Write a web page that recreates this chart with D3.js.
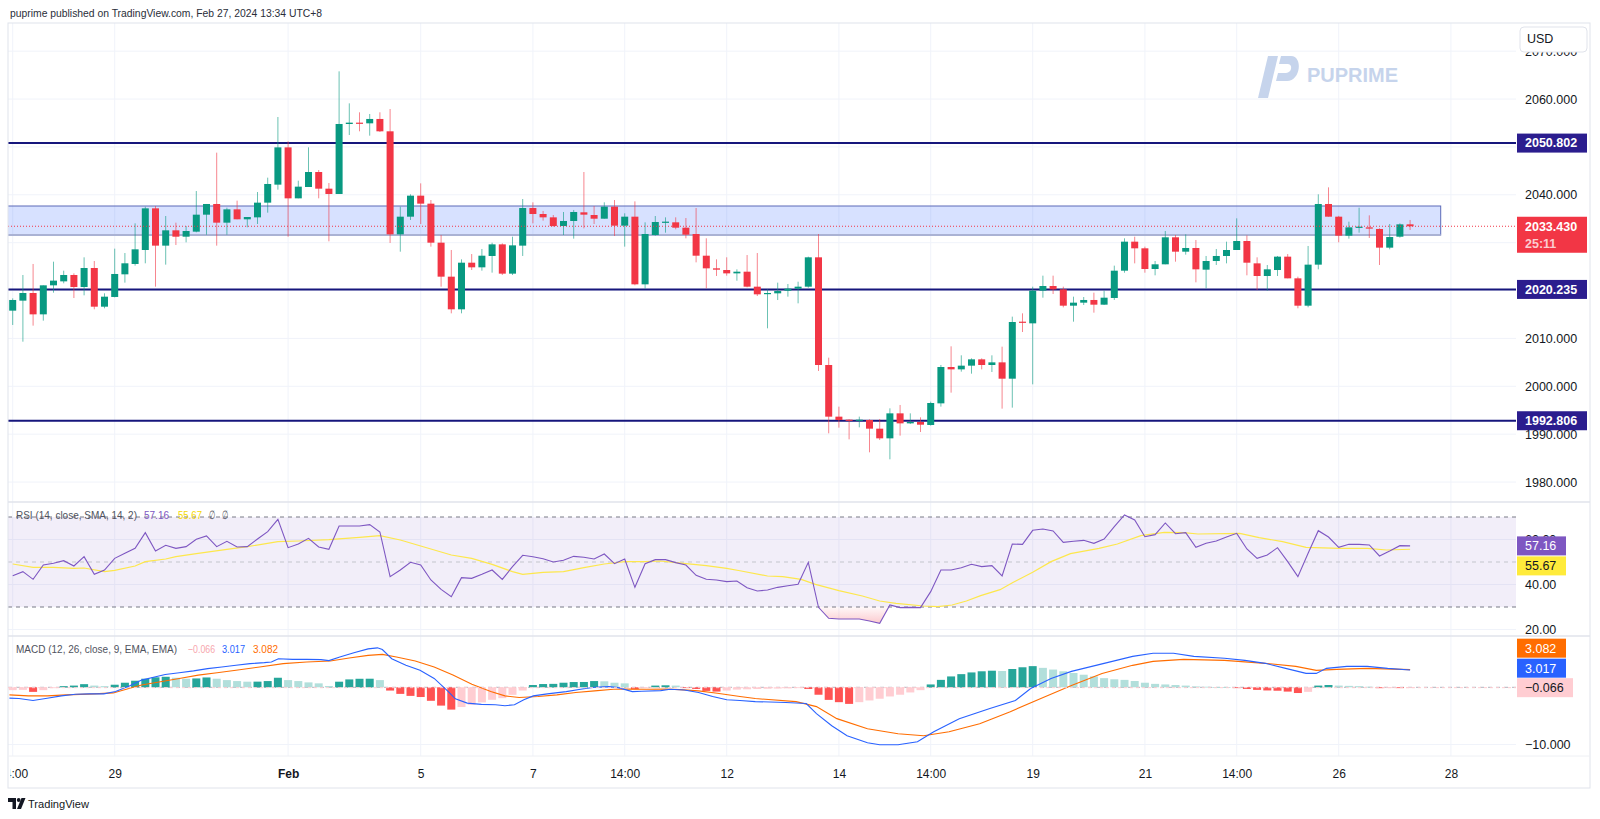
<!DOCTYPE html>
<html><head><meta charset="utf-8">
<script src="https://cdn.jsdelivr.net/npm/d3@7"></script>
<style>body{margin:0;background:#fff;}svg{display:block;font-family:"Liberation Sans",Arial,sans-serif;}</style>
</head><body><svg id="c" width="1600" height="819"></svg>
<script>
// ---------------- DATA ----------------
const headerText = "puprime published on TradingView.com, Feb 27, 2024 13:34 UTC+8";
const candleOpen = [
2015.80,2017.89,2019.49,2015.03,2021.09,2021.92,2023.25,2020.74,2024.71,2016.63,
2018.66,2023.39,2025.55,2028.47,2037.17,2029.38,2032.58,2031.25,2032.30,2035.85,
2038.08,2034.18,2036.96,2034.88,2035.29,2038.36,2042.12,2049.91,2039.26,2041.63,
2044.76,2041.28,2040.17,2054.79,2055.07,2054.93,2055.84,2053.26,2031.74,2035.43,
2039.82,2038.15,2030.00,2022.90,2016.08,2025.82,2024.85,2027.22,2029.65,2023.53,
2029.38,2037.24,2035.99,2035.29,2033.48,2034.53,2036.34,2035.78,2035.01,2037.52,
2033.55,2035.43,2021.30,2031.60,2034.25,2034.25,2033.13,2031.81,2027.28,2024.64,
2024.29,2023.59,2023.94,2020.81,2019.28,2019.42,2019.97,2020.39,2020.81,2026.94,
2004.45,1993.66,1993.03,1992.82,1992.96,1991.15,1989.13,1994.35,1992.26,1992.54,
1991.92,1996.44,2004.03,2003.54,2004.31,2005.63,2004.45,2005.00,2001.59,2013.50,
2013.15,2019.98,2020.95,2020.25,2016.84,2017.47,2018.03,2017.05,2018.45,2024.15,
2030.21,2028.82,2024.50,2025.48,2031.12,2028.12,2028.89,2024.36,2026.17,2027.22,
2028.47,2030.35,2025.68,2023.04,2024.29,2027.08,2022.55,2016.84,2025.41,2038.08,
2035.43,2031.46,2033.20,2033.20,2032.86,2028.96,2031.25,2033.83];
const candleHigh = [
2018.37,2023.25,2025.55,2021.09,2026.03,2024.15,2023.60,2026.94,2026.17,2019.42,
2028.75,2027.84,2034.04,2037.52,2037.66,2035.57,2034.18,2033.48,2040.79,2038.08,
2048.80,2037.31,2038.78,2035.36,2040.58,2043.58,2056.25,2051.17,2042.95,2049.91,
2045.18,2042.46,2065.79,2059.10,2057.23,2056.88,2057.23,2057.92,2037.52,2040.10,
2042.39,2038.91,2031.60,2028.47,2026.52,2027.63,2028.68,2030.00,2029.86,2031.25,
2039.12,2038.43,2036.62,2035.78,2036.41,2036.83,2044.76,2037.66,2038.43,2038.91,
2036.13,2038.63,2034.25,2035.57,2035.29,2035.29,2035.15,2037.24,2030.91,2026.52,
2026.94,2024.43,2027.42,2027.84,2020.25,2021.65,2021.37,2021.85,2027.08,2031.81,
2005.98,1995.75,1993.10,1993.66,1993.10,1993.17,1995.40,1996.10,1994.35,1993.52,
1996.79,2004.45,2008.35,2006.47,2005.84,2005.84,2006.47,2008.28,2014.55,2015.24,
2020.81,2023.11,2023.11,2020.81,2018.72,2018.65,2019.56,2019.98,2025.20,2030.91,
2031.25,2029.17,2026.17,2032.44,2031.60,2031.74,2030.56,2027.22,2028.68,2030.21,
2035.08,2031.53,2026.94,2025.34,2027.22,2027.63,2022.90,2029.31,2040.10,2041.56,
2035.60,2034.39,2037.31,2035.71,2033.00,2033.90,2034.04,2034.74];
const candleLow = [
2012.81,2009.32,2012.67,2013.71,2019.56,2021.51,2018.44,2019.00,2016.08,2016.29,
2018.58,2021.65,2025.20,2025.69,2020.81,2025.41,2029.51,2030.07,2032.16,2031.67,
2029.38,2031.67,2034.88,2033.21,2033.90,2036.27,2041.07,2031.25,2039.26,2041.63,
2039.26,2030.28,2040.17,2052.49,2053.26,2052.35,2053.12,2029.94,2028.12,2034.74,
2033.90,2029.17,2020.81,2015.24,2015.24,2024.29,2024.15,2023.74,2023.25,2023.25,
2027.22,2034.04,2034.60,2033.34,2031.60,2030.84,2033.00,2033.90,2035.01,2031.39,
2029.17,2021.10,2020.39,2031.46,2032.09,2032.79,2030.91,2025.89,2020.46,2023.04,
2023.11,2022.06,2020.67,2018.86,2012.11,2018.02,2018.72,2017.33,2020.60,2003.20,
1990.18,1991.36,1988.92,1991.43,1986.21,1988.78,1984.75,1989.69,1992.12,1990.45,
1991.78,1995.75,1998.67,2003.06,2002.64,2003.54,2002.99,1995.33,1995.54,2011.34,
2000.41,2018.51,2019.28,2016.49,2013.50,2016.98,2015.38,2016.98,2018.03,2023.73,
2025.68,2023.73,2023.18,2025.48,2026.03,2027.50,2021.72,2020.46,2025.34,2025.68,
2028.47,2023.18,2020.11,2019.98,2023.04,2022.55,2016.29,2016.50,2024.43,2035.43,
2030.07,2030.84,2032.09,2030.98,2025.34,2028.61,2031.05,2032.65];
const candleClose = [
2018.03,2019.49,2015.03,2021.09,2022.07,2023.25,2020.74,2024.71,2016.63,2018.72,
2023.46,2025.69,2028.61,2037.17,2029.38,2032.58,2031.25,2032.44,2035.85,2038.08,
2034.18,2036.96,2034.88,2035.36,2038.36,2042.26,2049.91,2039.26,2041.70,2044.76,
2041.28,2040.17,2054.79,2055.07,2054.93,2055.84,2053.26,2031.74,2035.43,2039.82,
2038.15,2030.00,2022.90,2016.08,2025.82,2024.85,2027.28,2029.65,2023.53,2029.44,
2037.24,2035.99,2035.29,2033.48,2034.53,2036.41,2035.85,2035.01,2037.52,2033.55,
2035.43,2021.30,2031.81,2034.32,2034.39,2033.13,2031.67,2027.28,2024.64,2024.36,
2023.59,2023.94,2020.81,2019.21,2019.49,2019.90,2020.39,2020.81,2026.94,2004.45,
1993.66,1992.96,1992.82,1993.03,1991.15,1989.13,1994.35,1992.26,1992.54,1991.98,
1996.51,2004.03,2003.54,2004.31,2005.63,2004.45,2005.00,2001.59,2013.43,2013.29,
2019.98,2020.95,2020.25,2016.84,2017.47,2018.03,2017.05,2018.51,2024.15,2030.21,
2028.82,2024.50,2025.48,2031.12,2028.12,2028.89,2024.43,2026.17,2027.22,2028.47,
2030.35,2025.82,2023.04,2024.43,2027.08,2022.55,2016.84,2025.41,2038.08,2035.43,
2031.46,2033.20,2033.34,2032.93,2028.96,2031.18,2033.83,2033.43];

const rsiValues = [
43.93,45.71,42.30,48.67,49.41,50.59,48.22,52.37,44.52,46.45,
51.63,53.85,56.08,63.04,54.89,57.41,56.08,56.82,60.08,61.56,
56.82,59.19,56.67,56.82,60.22,63.48,68.97,56.37,58.00,60.52,
56.67,55.63,66.00,66.00,66.00,66.59,63.34,43.48,46.45,49.85,
48.67,42.00,37.85,34.59,43.04,42.74,44.52,46.45,42.30,47.93,
52.97,52.37,51.48,50.00,50.74,52.52,52.08,51.34,53.56,49.26,
51.34,38.74,49.26,51.04,51.04,49.71,48.67,44.08,42.30,42.00,
41.26,41.56,38.59,37.11,37.56,38.74,39.48,40.08,49.85,29.85,
24.97,24.67,24.67,24.67,23.78,22.74,30.89,29.71,29.85,29.71,
36.82,46.45,46.45,47.48,48.97,47.93,48.37,43.78,58.00,57.85,
64.08,64.67,63.78,58.74,59.19,59.63,58.30,60.22,65.71,70.89,
68.67,61.26,62.15,67.34,62.59,63.04,56.52,58.30,59.34,61.11,
62.74,55.78,51.63,53.11,56.37,50.15,43.48,53.85,63.93,61.11,
56.52,57.85,57.85,57.56,52.67,54.89,57.26,57.16];
const rsiMaIdx = [0,2,4,6,7,9,10,12,13,15,16,18,21,23,26,28,31,34,36,38,40,43,45,47,49,50,52,54,56,58,60,62,63.5,65,68,70,71.3,74,75.5,77.3,78.7,81,83.3,85,86.6,89.3,90.7,92.1,93.5,94.9,96.8,98.1,100,101.8,103.7,106.5,108.3,110.6,112.9,114.8,116.2,120.3,122.2,124.5,126.8,130.1,132.8,134.7,137];
const rsiMaVal = [49.11,47.63,47.63,47.19,47.33,45.71,46.30,48.22,50.15,51.33,52.37,53.70,55.63,56.82,59.04,59.33,59.93,60.96,61.70,59.78,57.11,53.11,51.63,48.96,45.71,44.52,45.41,45.71,47.48,49.11,50.15,50.15,50.45,49.71,48.37,47.19,46.10,43.78,43.48,42.30,40.08,37.26,34.89,32.67,31.63,30.45,30.15,30.89,32.67,35.04,37.71,40.97,45.41,50.15,53.71,56.08,58.00,61.70,63.19,63.04,62.45,62.74,60.82,59.04,56.52,56.08,56.08,55.34,55.67];

const macdIdx = [-0.32,0.61,1.99,3.38,4.77,6.16,7.55,8.93,10.09,11.48,12.64,14.02,14.95,16.33,17.73,19.11,20.5,21.89,23.27,24.67,25.36,26.05,27.44,28.82,30.22,31.0,32.07,33.45,34.84,35.76,36.24,37.16,38.55,39.93,41.32,42.71,43.4,44.56,45.95,47.33,48.26,49.19,50.11,51.04,52.42,54.27,55.67,57.05,58.44,59.36,60.75,61.68,63.53,64.45,65.84,67.24,68.62,70.01,71.3,72.8,75.8,77.8,78.8,80.3,81.8,83.8,85,86.8,88.7,90.3,92.8,95.8,98.3,99.8,101.8,103.8,105.8,107.8,109.8,111.8,113.8,115.8,118.8,120.8,122.8,124.8,126.8,127.8,128.8,130.8,132.8,134.8,137];
const macdVal = [-1.90,-1.95,-2.30,-1.90,-1.50,-1.21,-1.15,-1.15,-0.75,0.28,1.26,1.83,2.24,2.53,2.87,3.27,3.56,3.85,4.14,4.31,4.43,5.0,4.89,4.89,4.83,4.66,5.29,6.03,6.72,6.90,6.61,5.0,3.85,2.98,1.55,-0.75,-2.01,-2.76,-2.99,-3.05,-3.22,-3.05,-2.18,-1.50,-1.15,-0.75,-0.35,0.0,0.11,-0.06,-0.75,-0.69,-0.58,-0.35,-0.46,-0.92,-1.61,-2.18,-2.30,-2.50,-2.67,-2.84,-4.60,-6.71,-8.47,-9.70,-10.05,-10.05,-9.53,-7.77,-5.48,-3.72,-2.31,-0.21,1.55,2.78,3.66,4.53,5.41,5.95,5.95,5.41,5.07,4.71,4.19,3.31,2.43,2.43,3.31,3.66,3.66,3.31,3.017];
const signalIdx = [-0.32,1.53,3.38,5.24,8.01,9.86,11.48,12.64,14.49,16.33,18.19,20.04,21.89,24.21,26.52,28.82,31.14,32.99,34.84,36.24,37.62,39.47,41.32,43.16,45.02,46.87,48.26,49.65,51.5,53.35,55.2,57.05,58.9,60.29,62.14,63.99,65.38,67.24,69.08,71.3,72.8,76.8,78.8,80.8,83.8,86.8,89.3,91.8,94.8,97.8,100.8,103.8,106.8,109.8,111.8,114.8,118.8,122.8,125.8,127.8,129.8,132.8,137];
const signalVal = [-1.32,-1.50,-1.50,-1.32,-1.15,-0.98,-0.17,0.40,0.98,1.55,2.13,2.53,2.99,3.56,4.14,4.43,4.60,5.12,5.58,5.75,5.29,4.60,3.56,2.13,0.52,-0.75,-1.50,-1.78,-1.61,-1.32,-0.92,-0.63,-0.35,-0.29,-0.35,-0.29,-0.40,-0.63,-1.03,-1.61,-1.97,-2.50,-3.38,-5.48,-7.24,-8.12,-8.47,-7.77,-6.36,-4.26,-1.97,0.32,2.43,3.84,4.53,4.89,4.71,4.19,3.66,2.96,3.13,3.31,3.082];
const macdHist = [
-0.50,-0.45,-0.80,-0.50,-0.15,0.20,0.30,0.55,0.30,0.20,
0.45,0.80,1.15,1.50,1.75,1.84,1.67,1.50,1.55,1.72,
1.50,1.26,1.09,0.98,0.99,1.09,1.67,1.26,1.09,0.86,
0.69,0.23,0.98,1.38,1.49,1.50,1.26,-0.57,-1.15,-1.50,
-1.70,-2.36,-3.20,-3.90,-3.45,-3.05,-2.64,-2.18,-1.90,-1.32,
-0.57,0.40,0.57,0.60,0.80,0.92,0.93,1.09,1.05,0.80,
0.69,-0.35,-0.12,0.30,0.35,0.30,-0.10,-0.30,-0.63,-0.75,
-0.57,-0.40,-0.35,-0.30,-0.25,-0.22,-0.18,-0.12,-0.30,-1.30,
-2.20,-2.60,-2.90,-2.60,-2.30,-2.00,-1.60,-1.30,-0.90,-0.50,
0.50,1.30,1.90,2.30,2.60,2.80,2.90,2.85,3.20,3.50,
3.70,3.40,3.10,2.80,2.50,2.20,1.90,1.60,1.40,1.30,
1.10,0.80,0.60,0.50,0.40,0.30,0.15,0.10,0.05,0.02,
-0.10,-0.30,-0.45,-0.55,-0.60,-0.75,-1.00,-0.80,0.30,0.40,
0.30,0.25,0.20,0.10,-0.15,-0.10,-0.12,-0.066];

const priceTicks = [1980,1990,2000,2010,2020,2030,2040,2050,2060,2070];
const rsiTicks = [20,40,60];
const macdTicks = [-10];
const levelLines = [2050.802, 2020.235, 1992.806];
const zonePrices = [2031.6, 2037.66];
const zoneIdx = [-5, 140];
const lastPrice = 2033.43;
const countdown = "25:11";
const timeIdx = [0,10,27,40,51,60,70,81,90,100,111,120,130,141];
const timeLabels = ["14:00","29","Feb","5","7","14:00","12","14","14:00","19","21","14:00","26","28"];
const rsiLegend = "RSI (14, close, SMA, 14, 2)";
const macdLegend = "MACD (12, 26, close, 9, EMA, EMA)";

// ---------------- LAYOUT ----------------
const PL=8, PR=1516, AXR=1590, PT=23, MB=502, RB=636, MCB=756, FB=788;
const svg = d3.select('#c');
svg.append('rect').attr('width',1600).attr('height',819).attr('fill','#fff');
const defs = svg.append('defs');
function clip(id,x,y,w,h){defs.append('clipPath').attr('id',id).append('rect').attr('x',x).attr('y',y).attr('width',w).attr('height',h);}
clip('cm',PL,PT,PR-PL,MB-PT); clip('cr',PL,MB,PR-PL,RB-MB); clip('cmac',PL,RB,PR-PL,MCB-RB);
clip('ct',10.5,MCB,PR-10.5,FB-MCB);

const x = d3.scaleLinear().domain([0,137]).range([12.7,12.7+137*10.2]);
const yP = d3.scaleLinear().domain([2000,2060]).range([386.3,99.05]);
const yR = d3.scaleLinear().domain([30,70]).range([607,517]);
const yM = d3.scaleLinear().domain([-10,0]).range([744.5,687.3]);

const GRID='#f0f3fa', BORDER='#e0e3eb', TXT='#131722';
const UP='#089981', DN='#f23645';

// header
svg.append('text').attr('x',10).attr('y',17).attr('font-size',11.5).attr('fill','#2a2e39')
  .attr('textLength',312).attr('lengthAdjust','spacingAndGlyphs').text(headerText);

// gridlines
const grid = svg.append('g');
grid.selectAll('.vg').data(timeIdx).join('line').attr('x1',d=>x(d)).attr('x2',d=>x(d))
  .attr('y1',PT).attr('y2',MCB).attr('stroke',GRID).attr('clip-path','url(#cm)');
grid.selectAll('.vg2').data(timeIdx).join('line').attr('x1',d=>x(d)).attr('x2',d=>x(d))
  .attr('y1',MB).attr('y2',RB).attr('stroke',GRID).attr('clip-path','url(#cr)');
grid.selectAll('.vg3').data(timeIdx).join('line').attr('x1',d=>x(d)).attr('x2',d=>x(d))
  .attr('y1',RB).attr('y2',MCB).attr('stroke',GRID).attr('clip-path','url(#cmac)');
grid.selectAll('.hg').data(priceTicks).join('line').attr('x1',PL).attr('x2',PR)
  .attr('y1',d=>yP(d)).attr('y2',d=>yP(d)).attr('stroke',GRID).attr('clip-path','url(#cm)');
grid.selectAll('.hr').data(rsiTicks).join('line').attr('x1',PL).attr('x2',PR)
  .attr('y1',d=>yR(d)).attr('y2',d=>yR(d)).attr('stroke',GRID);
grid.selectAll('.hm').data(macdTicks).join('line').attr('x1',PL).attr('x2',PR)
  .attr('y1',d=>yM(d)).attr('y2',d=>yM(d)).attr('stroke',GRID);

// ---------- MAIN PANE ----------
const main = svg.append('g').attr('clip-path','url(#cm)');
main.append('rect').attr('x',x(zoneIdx[0])).attr('width',x(zoneIdx[1])-x(zoneIdx[0]))
  .attr('y',yP(zonePrices[1])).attr('height',yP(zonePrices[0])-yP(zonePrices[1]))
  .attr('fill','rgba(41,98,255,0.19)').attr('stroke','#5c6bb8').attr('stroke-width',1);
main.append('line').attr('x1',x(zoneIdx[0])).attr('x2',x(zoneIdx[1]))
  .attr('y1',yP(zonePrices[0])).attr('y2',yP(zonePrices[0])).attr('stroke','#aab2d4').attr('stroke-width',2);

// watermark
const wm = svg.append('g').attr('fill','#c6d4ec');
wm.append('path').attr('d','M1258,98 L1268,56 L1278,56 L1268,98 Z');
wm.append('path').attr('d','M1281,56 L1291,56 C1303,56 1301,81 1287,81 L1276,81 L1278,73 L1286,73 C1292,73 1293,64 1288,64 L1279,64 Z');
wm.append('text').attr('x',1307).attr('y',82).attr('font-size',20).attr('font-weight','bold').text('PUPRIME');

// level lines
main.selectAll('.lvl').data(levelLines).join('line').attr('x1',PL).attr('x2',PR)
  .attr('y1',d=>yP(d)).attr('y2',d=>yP(d)).attr('stroke','#16167c').attr('stroke-width',2);

// candles
const idx = d3.range(candleOpen.length);
const cg = main.append('g');
cg.selectAll('.w').data(idx).join('line')
  .attr('x1',i=>x(i)).attr('x2',i=>x(i))
  .attr('y1',i=>yP(candleHigh[i])).attr('y2',i=>yP(candleLow[i]))
  .attr('stroke',i=>candleClose[i]>=candleOpen[i]?UP:DN).attr('stroke-opacity',0.6).attr('stroke-width',1);
cg.selectAll('.b').data(idx).join('rect')
  .attr('x',i=>x(i)-3.5).attr('width',7)
  .attr('y',i=>yP(Math.max(candleOpen[i],candleClose[i])))
  .attr('height',i=>Math.max(1.2,Math.abs(yP(candleOpen[i])-yP(candleClose[i]))))
  .attr('fill',i=>candleClose[i]>=candleOpen[i]?UP:DN);

// last price dotted line
main.append('line').attr('x1',PL).attr('x2',PR).attr('y1',yP(lastPrice)).attr('y2',yP(lastPrice))
  .attr('stroke',DN).attr('stroke-dasharray','1,2').attr('stroke-width',1);

// ---------- RSI PANE ----------
const rsi = svg.append('g').attr('clip-path','url(#cr)');
rsi.append('rect').attr('x',PL).attr('width',PR-PL).attr('y',yR(70)).attr('height',yR(30)-yR(70))
  .attr('fill','rgba(126,87,194,0.1)');
[70,30].forEach(v=>rsi.append('line').attr('x1',PL).attr('x2',PR).attr('y1',yR(v)).attr('y2',yR(v))
  .attr('stroke','#787b86').attr('stroke-dasharray','4,4'));
rsi.append('line').attr('x1',PL).attr('x2',PR).attr('y1',yR(50)).attr('y2',yR(50))
  .attr('stroke','#c3c5cc').attr('stroke-dasharray','4,4');
const gradR = defs.append('linearGradient').attr('id','gr').attr('gradientUnits','userSpaceOnUse')
  .attr('x1',0).attr('x2',0).attr('y1',yR(30)).attr('y2',yR(20));
gradR.append('stop').attr('offset',0).attr('stop-color','rgba(242,54,69,0.03)');
gradR.append('stop').attr('offset',1).attr('stop-color','rgba(242,54,69,0.35)');
const gradG = defs.append('linearGradient').attr('id','gg').attr('gradientUnits','userSpaceOnUse')
  .attr('x1',0).attr('x2',0).attr('y1',yR(70)).attr('y2',yR(80));
gradG.append('stop').attr('offset',0).attr('stop-color','rgba(8,153,129,0.03)');
gradG.append('stop').attr('offset',1).attr('stop-color','rgba(8,153,129,0.35)');
clip('below30',PL,yR(30),PR-PL,RB-yR(30));
clip('above70',PL,MB,PR-PL,yR(70)-MB);
const areaR = d3.area().x((d,i)=>x(i)).y0(yR(30)).y1(d=>yR(d));
rsi.append('path').datum(rsiValues).attr('d',areaR).attr('fill','url(#gr)').attr('clip-path','url(#below30)');
const areaG = d3.area().x((d,i)=>x(i)).y0(yR(70)).y1(d=>yR(d));
rsi.append('path').datum(rsiValues).attr('d',areaG).attr('fill','url(#gg)').attr('clip-path','url(#above70)');
rsi.append('path').datum(rsiMaIdx.map((d,i)=>[d,rsiMaVal[i]]))
  .attr('d',d3.line().x(d=>x(d[0])).y(d=>yR(d[1]))).attr('fill','none').attr('stroke','#fde74c').attr('stroke-width',1.2);
rsi.append('path').datum(rsiValues).attr('d',d3.line().x((d,i)=>x(i)).y(d=>yR(d)))
  .attr('fill','none').attr('stroke','#7e57c2').attr('stroke-width',1.1);

// ---------- MACD PANE ----------
const mac = svg.append('g').attr('clip-path','url(#cmac)');
mac.append('line').attr('x1',PL).attr('x2',PR).attr('y1',yM(0)).attr('y2',yM(0))
  .attr('stroke','#b2b5be').attr('stroke-dasharray','4,4');
mac.selectAll('.h').data(macdHist).join('rect')
  .attr('x',(d,i)=>x(i)-4).attr('width',8)
  .attr('y',d=>yM(Math.max(d,0))).attr('height',d=>Math.max(0.8,Math.abs(yM(d)-yM(0))))
  .attr('fill',(d,i)=>{const p=i>0?macdHist[i-1]:d; return d>=0?(d>=p?'#26a69a':'#b2dfdb'):(d<p?'#ff5252':'#ffcdd2');});
mac.append('path').datum(signalIdx.map((d,i)=>[d,signalVal[i]]))
  .attr('d',d3.line().x(d=>x(d[0])).y(d=>yM(d[1]))).attr('fill','none').attr('stroke','#ff6d00').attr('stroke-width',1.1);
mac.append('path').datum(macdIdx.map((d,i)=>[d,macdVal[i]]))
  .attr('d',d3.line().x(d=>x(d[0])).y(d=>yM(d[1]))).attr('fill','none').attr('stroke','#2962ff').attr('stroke-width',1.1);

// ---------- FRAME / SEPARATORS ----------
svg.append('rect').attr('x',PL).attr('y',PT).attr('width',AXR-PL).attr('height',FB-PT)
  .attr('fill','none').attr('stroke',BORDER);
[MB,RB].forEach(y=>svg.append('line').attr('x1',PL).attr('x2',AXR).attr('y1',y).attr('y2',y).attr('stroke',BORDER).attr('stroke-width',1.5));
svg.append('line').attr('x1',PL).attr('x2',AXR).attr('y1',MCB).attr('y2',MCB).attr('stroke','#eef0f4');

// ---------- AXES ----------
function styleAxis(g){g.select('.domain').remove();g.selectAll('text').attr('fill',TXT).attr('font-size',12.5).attr('font-family','"Liberation Sans",Arial,sans-serif');}
svg.append('g').attr('transform','translate(1525,0)')
  .call(d3.axisRight(yP).tickValues(priceTicks).tickFormat(d3.format('.3f')).tickSize(0).tickPadding(0)).call(styleAxis);
svg.append('g').attr('transform','translate(1525,0)')
  .call(d3.axisRight(yR).tickValues(rsiTicks).tickFormat(d3.format('.2f')).tickSize(0).tickPadding(0)).call(styleAxis);
svg.append('g').attr('transform','translate(1525,0)')
  .call(d3.axisRight(yM).tickValues(macdTicks).tickFormat(d=>'\u2212'+d3.format('.3f')(-d)).tickSize(0).tickPadding(0)).call(styleAxis);
const tax = svg.append('g').attr('clip-path','url(#ct)').append('g').attr('transform','translate(0,769)')
  .call(d3.axisBottom(x).tickValues(timeIdx).tickFormat((d,i)=>timeLabels[i]).tickSize(0).tickPadding(0));
tax.select('.domain').remove();
tax.selectAll('text').attr('fill',TXT).attr('font-size',12).attr('font-weight',(d,i)=>timeLabels[i]==='Feb'?'bold':'normal');

// USD box
svg.append('rect').attr('x',1520).attr('y',27).attr('width',67).attr('height',25).attr('rx',4)
  .attr('fill','#fff').attr('stroke',BORDER);
svg.append('text').attr('x',1527).attr('y',39).attr('dy','0.35em').attr('font-size',12.5).attr('fill',TXT).text('USD');

// ---------- PRICE LABELS ----------
function tag(yc,h,w,bg,txt,col,bold){
  svg.append('rect').attr('x',1517).attr('y',yc-h/2).attr('width',w).attr('height',h).attr('fill',bg);
  svg.append('text').attr('x',1525).attr('y',yc).attr('dy','0.35em').attr('font-size',12.5)
    .attr('font-weight',bold?'bold':'normal').attr('fill',col).text(txt);
}
levelLines.forEach(v=>tag(yP(v),19,70,'#2b1d8e',d3.format('.3f')(v),'#fff',true));
svg.append('rect').attr('x',1517).attr('y',yP(lastPrice)-9.5).attr('width',70).attr('height',36).attr('fill',DN);
svg.append('text').attr('x',1525).attr('y',yP(lastPrice)).attr('dy','0.35em').attr('font-size',12.5).attr('font-weight','bold').attr('fill','#fff').text(d3.format('.3f')(lastPrice));
svg.append('text').attr('x',1525).attr('y',yP(lastPrice)+17.5).attr('dy','0.35em').attr('font-size',12.5).attr('font-weight','bold').attr('fill','rgba(255,255,255,0.75)').text(countdown);

const rsiLast = rsiValues[rsiValues.length-1], maLast = rsiMaVal[rsiMaVal.length-1];
tag(yR(rsiLast),19,49,'#7e57c2',rsiLast.toFixed(2),'#fff',false);
tag(yR(rsiLast)+20,19,49,'#ffeb3b',maLast.toFixed(2),TXT,false);
const mLast = macdVal[macdVal.length-1], sLast = signalVal[signalVal.length-1], hLast = macdHist[macdHist.length-1];
tag(yM(sLast)-21.5,19,49,'#ff6d00',sLast.toFixed(3),'#fff',false);
tag(yM(sLast)-1.5,19,49,'#2962ff',mLast.toFixed(3),'#fff',false);
tag(yM(hLast),19,56,'#ffcdd2','\u2212'+Math.abs(hLast).toFixed(3),TXT,false);
svg.append('line').attr('x1',PL).attr('x2',PR).attr('y1',yM(hLast)).attr('y2',yM(hLast)).attr('stroke','#ffcdd2').attr('stroke-dasharray','3,3').attr('clip-path','url(#cmac)');

// ---------- LEGENDS ----------
function legendPart(t,x0,len,col,txt){t.append('tspan').attr('x',x0).attr('fill',col).attr('textLength',len).attr('lengthAdjust','spacingAndGlyphs').text(txt);}
const lr = svg.append('text').attr('y',515).attr('dy','0.35em').attr('font-size',11.5);
legendPart(lr,16,121,'#50535e',rsiLegend);
legendPart(lr,144,25,'#7e57c2',rsiLast.toFixed(2));
legendPart(lr,178,24,'#f5d800',maLast.toFixed(2));
legendPart(lr,209,6,'#50535e','\u2205');
legendPart(lr,222,6,'#50535e','\u2205');
const lm = svg.append('text').attr('y',649).attr('dy','0.35em').attr('font-size',11.5);
legendPart(lm,16,161,'#50535e',macdLegend);
legendPart(lm,188,27,'#f7a6ae','\u2212'+Math.abs(hLast).toFixed(3));
legendPart(lm,222,23,'#2962ff',mLast.toFixed(3));
legendPart(lm,253,25,'#ff6d00',sLast.toFixed(3));

// TradingView footer
const tv = svg.append('g').attr('fill',TXT);
tv.append('path').attr('d','M8,798 h8 v11 h-3.5 v-7 h-4.5 z');
tv.append('circle').attr('cx',18.7).attr('cy',800).attr('r',1.9);
tv.append('path').attr('d','M21.5,798 h4 l-4.5,11 h-4 z');
svg.append('text').attr('x',28).attr('y',808).attr('font-size',11).attr('fill',TXT).attr('textLength',61).attr('lengthAdjust','spacingAndGlyphs').text('TradingView');
</script></body></html>
